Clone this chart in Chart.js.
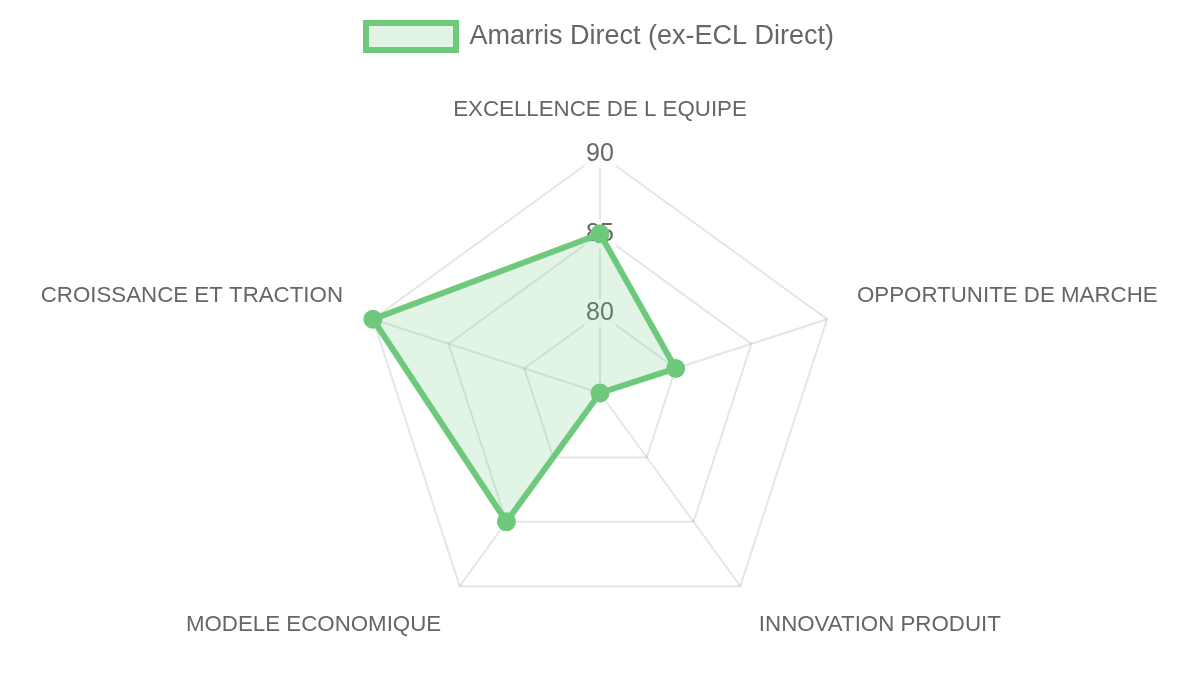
<!DOCTYPE html>
<html>
<head>
<meta charset="utf-8">
<script src="https://cdn.jsdelivr.net/npm/chart.js@4/dist/chart.umd.min.js"></script>
<style>
html,body{margin:0;padding:0;background:#fff;}
#wrap{width:1200px;height:675px;}
</style>
</head>
<body>
<div id="wrap"><canvas id="c" width="1200" height="675"></canvas></div>
<script>
const categories = ["EXCELLENCE DE L EQUIPE", "OPPORTUNITE DE MARCHE", "INNOVATION PRODUIT", "MODELE ECONOMIQUE", "CROISSANCE ET TRACTION"];
const seriesName = "Amarris Direct (ex-ECL Direct)";
const seriesValues = [85, 80, 75, 85, 90];
const scaleMin = 75;
const scaleMax = 90;
const scaleStep = 5;

const green = 'rgb(110,201,124)';
const legendGap = {
  id: 'legendGap',
  beforeInit(chart) {
    const orig = chart.legend.fit;
    chart.legend.fit = function () {
      orig.bind(chart.legend)();
      this.height += 14;
    };
  }
};
new Chart(document.getElementById('c'), {
  type: 'radar',
  plugins: [legendGap],
  data: {
    labels: categories,
    datasets: [{
      label: seriesName,
      data: seriesValues,
      borderColor: green,
      backgroundColor: 'rgba(110,201,124,0.2)',
      borderWidth: 6,
      pointBackgroundColor: green,
      pointBorderColor: green,
      pointRadius: 6.5,
      fill: true
    }]
  },
  options: {
    responsive: false,
    animation: false,
    layout: {padding: {top: 5, bottom: 6}},
    plugins: {
      legend: {
        labels: {
          font: {size: 27, family: "'Liberation Sans', Arial, sans-serif"},
          color: '#666',
          boxWidth: 90,
          boxHeight: 27,
          padding: 18
        }
      },
      tooltip: {enabled: false}
    },
    scales: {
      r: {
        min: scaleMin,
        max: scaleMax,
        ticks: {
          stepSize: scaleStep,
          font: {size: 25, family: "'Liberation Sans', Arial, sans-serif"},
          color: '#666'
        },
        pointLabels: {
          padding: 17,
          font: {size: 22.3, family: "'Liberation Sans', Arial, sans-serif"},
          color: '#666'
        },
        grid: {color: 'rgba(0,0,0,0.1)', lineWidth: 2},
        angleLines: {color: 'rgba(0,0,0,0.1)', lineWidth: 2}
      }
    }
  }
});
</script>
</body>
</html>
